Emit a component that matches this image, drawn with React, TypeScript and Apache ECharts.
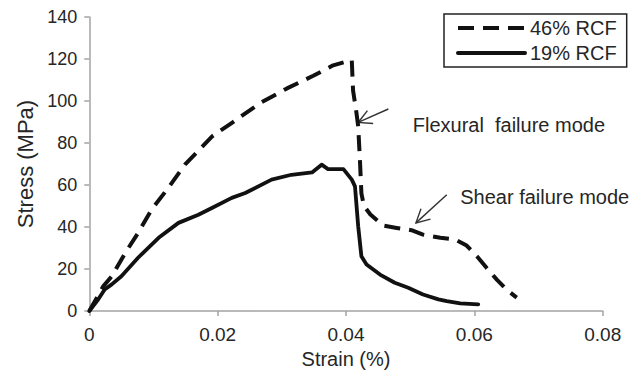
import React, { useEffect, useRef } from 'react';
import * as echarts from 'echarts';

const seriesNames = ['46% RCF', '19% RCF'];

const rcf46Strain = [0, 0.0022, 0.0035, 0.0056, 0.0076, 0.0097, 0.0123, 0.0149, 0.0191, 0.0224, 0.0266, 0.0308, 0.0349, 0.038, 0.0409, 0.0411, 0.0416, 0.0419, 0.0422, 0.0424, 0.0428, 0.0438, 0.0458, 0.0479, 0.0502, 0.052, 0.0547, 0.057, 0.0588, 0.0604, 0.0619, 0.0635, 0.065, 0.0666];
const rcf46Stress = [0, 11.9, 16.6, 27.7, 37.2, 48.3, 58.6, 69.7, 83.1, 90, 99, 106, 112, 117, 119.5, 105, 95, 88, 70, 56, 50, 46, 40.7, 39.6, 38.5, 36.4, 34.9, 34.1, 31.2, 26.1, 20.6, 15, 10.3, 6.4];

const rcf19Strain = [0, 0.0014, 0.0024, 0.0035, 0.005, 0.0076, 0.0108, 0.0139, 0.017, 0.0191, 0.0222, 0.0243, 0.0284, 0.0315, 0.0347, 0.0362, 0.0372, 0.0383, 0.0396, 0.0409, 0.0414, 0.0419, 0.0424, 0.0432, 0.0453, 0.0476, 0.0497, 0.052, 0.0544, 0.0557, 0.0578, 0.0606];
const rcf19Stress = [0, 5.6, 10.3, 12.7, 16.6, 25.4, 34.9, 42, 45.9, 49.1, 53.9, 56.2, 62.6, 64.9, 66, 69.7, 67.6, 67.6, 67.6, 62.6, 59.4, 40.4, 26.1, 22.2, 17.4, 13.5, 11.1, 7.9, 5.6, 4.75, 3.7, 3.2];

const annotationLabels = ['Flexural  failure mode', 'Shear failure mode'];
const annotationTextAt = [[0.0504, 88.6], [0.0578, 54.5]];
const arrowTail = [[0.0466, 96.2], [0.0557, 55.4]];
const arrowTip = [[0.0419, 89.8], [0.0509, 42.0]];

const TEXT = '#262626';
const AXIS = '#a3a3a3';

function zip(xs: number[], ys: number[]) {
  return xs.map((x, i) => [x, ys[i]]);
}

export default function App() {
  const ref = useRef<HTMLDivElement>(null);
  useEffect(() => {
    document.body.style.margin = '0';
    const chart = echarts.init(ref.current!, null, { renderer: 'svg' });
    chart.setOption({
      animation: false,
      grid: { left: 89.3, right: 26.3, top: 17, bottom: 62.3 },
      legend: {
        orient: 'vertical',
        left: 444,
        top: 14,
        data: seriesNames,
        borderColor: '#222',
        borderWidth: 1.5,
        borderRadius: 0,
        padding: [4, 10, 4, 12],
        itemWidth: 67,
        itemHeight: 14,
        itemGap: 5,
        itemStyle: { opacity: 0 },
        lineStyle: { width: 4 },
        textStyle: { fontFamily: 'Liberation Sans', fontSize: 20, lineHeight: 20, color: TEXT },
      },
      xAxis: {
        type: 'value',
        min: 0,
        max: 0.08,
        interval: 0.02,
        name: 'Strain (%)',
        nameLocation: 'middle',
        nameGap: 36,
        nameTextStyle: { fontFamily: 'Liberation Sans', fontSize: 20, color: TEXT },
        axisLine: { lineStyle: { color: AXIS, width: 1.5 } },
        axisTick: { show: true, length: 5, lineStyle: { color: AXIS, width: 1.5 } },
        axisLabel: { fontFamily: 'Liberation Sans', fontSize: 19, color: TEXT, margin: 14 },
        splitLine: { show: false },
      },
      yAxis: {
        type: 'value',
        min: 0,
        max: 140,
        interval: 20,
        name: 'Stress (MPa)',
        nameLocation: 'middle',
        nameGap: 53,
        nameTextStyle: { fontFamily: 'Liberation Sans', fontSize: 22, color: TEXT },
        axisLine: { show: true, lineStyle: { color: AXIS, width: 1.5 } },
        axisTick: { show: true, length: 5, lineStyle: { color: AXIS, width: 1.5 } },
        axisLabel: { fontFamily: 'Liberation Sans', fontSize: 18, color: TEXT, margin: 12 },
        splitLine: { show: false },
      },
      series: [
        {
          name: seriesNames[0],
          type: 'line',
          data: zip(rcf46Strain, rcf46Stress),
          symbol: 'none',
          lineStyle: { color: '#111', width: 4, type: [16, 9], cap: 'butt', join: 'round' },
          itemStyle: { color: '#111' },
        },
        {
          name: seriesNames[1],
          type: 'line',
          data: zip(rcf19Strain, rcf19Stress),
          symbol: 'none',
          lineStyle: { color: '#111', width: 3.8, type: 'solid', cap: 'round', join: 'round' },
          itemStyle: { color: '#111' },
        },
      ],
    });

    const graphics: any[] = [];
    annotationLabels.forEach((label, i) => {
      const p = chart.convertToPixel({ gridIndex: 0 }, annotationTextAt[i]) as number[];
      graphics.push({
        type: 'text',
        x: p[0],
        y: p[1],
        style: {
          text: label,
          fontFamily: 'Liberation Sans',
          fontSize: 20,
          fill: TEXT,
          textAlign: 'left',
          textVerticalAlign: 'middle',
        },
      });
      const t = chart.convertToPixel({ gridIndex: 0 }, arrowTail[i]) as number[];
      const h = chart.convertToPixel({ gridIndex: 0 }, arrowTip[i]) as number[];
      const dx = t[0] - h[0];
      const dy = t[1] - h[1];
      const len = Math.hypot(dx, dy);
      const ux = dx / len;
      const uy = dy / len;
      const armLen = 15;
      const ang = (28 * Math.PI) / 180;
      const rot = (a: number) => [
        h[0] + armLen * (ux * Math.cos(a) - uy * Math.sin(a)),
        h[1] + armLen * (ux * Math.sin(a) + uy * Math.cos(a)),
      ];
      const lineStyle = { stroke: '#333', lineWidth: 1.4, fill: null };
      graphics.push({ type: 'line', shape: { x1: t[0], y1: t[1], x2: h[0], y2: h[1] }, style: lineStyle });
      graphics.push({ type: 'polyline', shape: { points: [rot(ang), h, rot(-ang)] }, style: lineStyle });
    });
    chart.setOption({ graphic: graphics });

    return () => chart.dispose();
  }, []);
  return <div ref={ref} style={{ width: 629, height: 374 }} />;
}
